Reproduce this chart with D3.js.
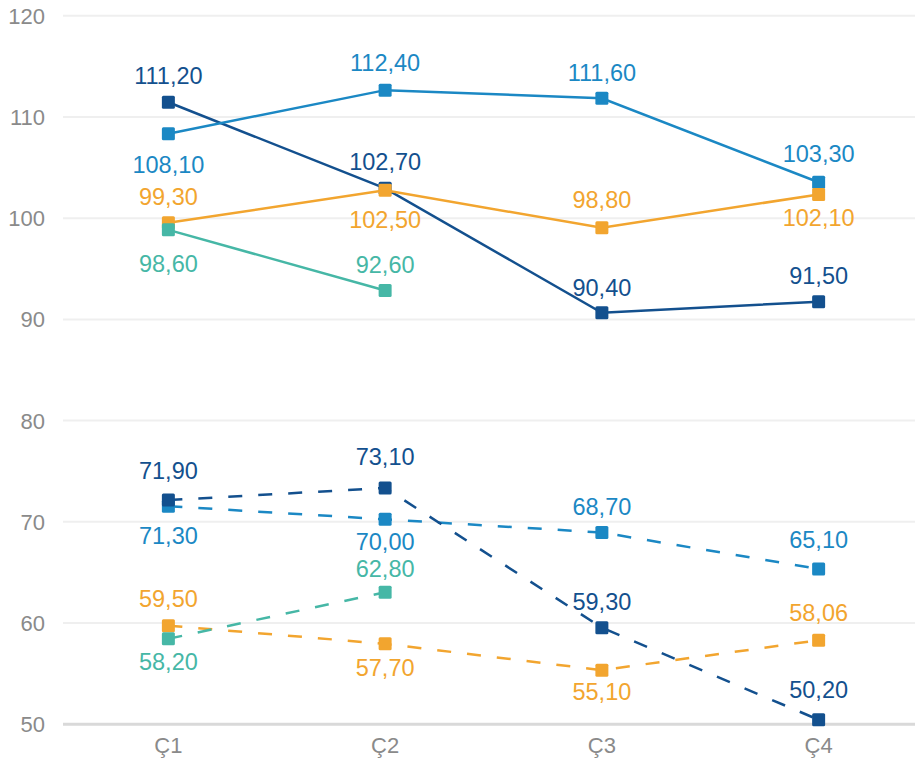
<!DOCTYPE html>
<html>
<head>
<meta charset="utf-8">
<script src="https://cdn.jsdelivr.net/npm/d3@7"></script>
<style>
  html, body { margin: 0; padding: 0; background: #fff; }
  svg { display: block; font-family: "Liberation Sans", Arial, Helvetica, sans-serif; }
</style>
</head>
<body>
<svg id="chart" width="915" height="764"></svg>
<script>
// categories and tick values
var quarters = ["Ç1", "Ç2", "Ç3", "Ç4"];
var yTicks = [50, 60, 70, 80, 90, 100, 110, 120];

// series values (null = no value)
var navySolid   = [111.20, 102.70, 90.40, 91.50];
var blueSolid   = [108.10, 112.40, 111.60, 103.30];
var orangeSolid = [99.30, 102.50, 98.80, 102.10];
var tealSolid   = [98.60, 92.60, null, null];
var blueDashed   = [71.30, 70.00, 68.70, 65.10];
var navyDashed   = [71.90, 73.10, 59.30, 50.20];
var orangeDashed = [59.50, 57.70, 55.10, 58.06];
var tealDashed   = [58.20, 62.80, null, null];

// label baseline offset from the marker (negative = above)
var navySolidDy   = [-18, -18, -17, -18];
var blueSolidDy   = [39, -19, -17, -20];
var orangeSolidDy = [-18, 38, -20, 32];
var tealSolidDy   = [42, -18];
var blueDashedDy   = [38, 31, -18, -21];
var navyDashedDy   = [-21, -23, -18, -22];
var orangeDashedDy = [-19, 32, 30, -19];
var tealDashedDy   = [31, -15];

var NAVY = "#13508e", BLUE = "#1b88c4", ORANGE = "#f2a52f", TEAL = "#46b7a6";

// drawing order: later ones sit on top
var series = [
  {values: navySolid,    dy: navySolidDy,    color: NAVY,   dashed: false},
  {values: blueSolid,    dy: blueSolidDy,    color: BLUE,   dashed: false},
  {values: orangeSolid,  dy: orangeSolidDy,  color: ORANGE, dashed: false},
  {values: tealSolid,    dy: tealSolidDy,    color: TEAL,   dashed: false},
  {values: blueDashed,   dy: blueDashedDy,   color: BLUE,   dashed: true},
  {values: navyDashed,   dy: navyDashedDy,   color: NAVY,   dashed: true},
  {values: orangeDashed, dy: orangeDashedDy, color: ORANGE, dashed: true},
  {values: tealDashed,   dy: tealDashedDy,   color: TEAL,   dashed: true}
];

var svg = d3.select("#chart");
var left = 63, right = 915;

var x = d3.scalePoint().domain(quarters).range([60, 927]).padding(0.5);
var y = d3.scaleLinear().domain([50, 120]).range([724.3, 15.7]);
// marks sit a touch above the grid in the original
var my = function(v) { return y(v) - 2.5; };

var fmt = function(v) { return d3.format(".2f")(v).replace(".", ","); };

// grid lines
svg.append("g").selectAll("line")
  .data(yTicks.filter(function(t) { return t > 50; }))
  .enter().append("line")
  .attr("x1", left).attr("x2", right)
  .attr("y1", function(d) { return y(d); })
  .attr("y2", function(d) { return y(d); })
  .attr("stroke", "#efefef")
  .attr("stroke-width", 2);

// base line
svg.append("line")
  .attr("x1", left).attr("x2", right)
  .attr("y1", y(50)).attr("y2", y(50))
  .attr("stroke", "#d9d9d9")
  .attr("stroke-width", 3);

// y tick labels
svg.append("g").selectAll("text")
  .data(yTicks)
  .enter().append("text")
  .attr("x", 45)
  .attr("y", function(d) { return y(d) + 8; })
  .attr("text-anchor", "end")
  .attr("font-size", 22)
  .attr("fill", "#8a8a8a")
  .text(function(d) { return d; });

// x tick labels
svg.append("g").selectAll("text")
  .data(quarters)
  .enter().append("text")
  .attr("x", function(d) { return x(d); })
  .attr("y", 753)
  .attr("text-anchor", "middle")
  .attr("font-size", 22)
  .attr("fill", "#8a8a8a")
  .text(function(d) { return d; });

var line = d3.line()
  .defined(function(d) { return d.v != null; })
  .x(function(d) { return x(d.q); })
  .y(function(d) { return my(d.v); });

series.forEach(function(s) {
  var pts = s.values.map(function(v, i) {
    return {q: quarters[i], v: v, dy: s.dy[i]};
  });
  var g = svg.append("g");

  g.append("path")
    .datum(pts)
    .attr("d", line)
    .attr("fill", "none")
    .attr("stroke", s.color)
    .attr("stroke-width", 2.5)
    .attr("stroke-dasharray", s.dashed ? "14,16" : null);

  var valid = pts.filter(function(d) { return d.v != null; });

  g.selectAll("rect")
    .data(valid)
    .enter().append("rect")
    .attr("x", function(d) { return x(d.q) - 6.5; })
    .attr("y", function(d) { return my(d.v) - 6.5; })
    .attr("width", 13).attr("height", 13)
    .attr("rx", 1.5)
    .attr("fill", s.color);

  s.labels = valid;
});

// value labels on top of everything
series.forEach(function(s) {
  svg.append("g").selectAll("text")
    .data(s.labels)
    .enter().append("text")
    .attr("x", function(d) { return x(d.q); })
    .attr("y", function(d) { return my(d.v) + d.dy; })
    .attr("text-anchor", "middle")
    .attr("font-size", 23.5)
    .attr("fill", s.color)
    .text(function(d) { return fmt(d.v); });
});
</script>
</body>
</html>
